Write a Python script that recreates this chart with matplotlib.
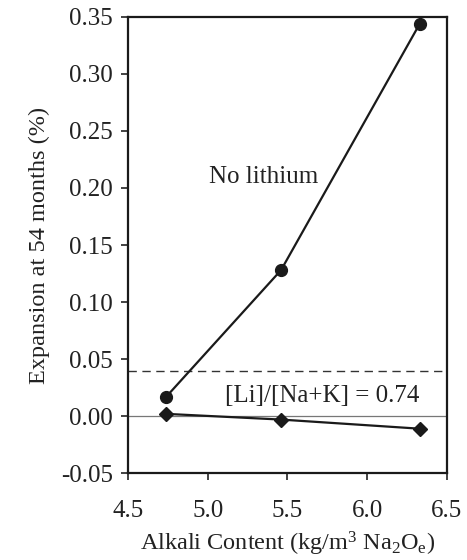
import matplotlib.pyplot as plt

# alkali content (kg/m3 Na2Oe)
alkali = [4.74, 5.46, 6.33]
no_lithium = [0.017, 0.128, 0.344]
with_lithium = [0.002, -0.003, -0.011]
limit = 0.04

xticks = [4.5, 5.0, 5.5, 6.0, 6.5]
yticks = [-0.05, 0.0, 0.05, 0.10, 0.15, 0.20, 0.25, 0.30, 0.35]


def main():
    plt.rcParams['font.family'] = ['Liberation Serif', 'DejaVu Serif']
    plt.rcParams['mathtext.fontset'] = 'custom'
    plt.rcParams['mathtext.rm'] = 'Liberation Serif'
    plt.rcParams['mathtext.it'] = 'Liberation Serif'
    fig = plt.figure(figsize=(4.67, 5.60), dpi=100)
    ax = fig.add_axes([0.274, 0.155, 0.683, 0.815])

    ax.axhline(0.0, color='#777777', lw=0.9, zorder=1)
    ax.axhline(limit, color='#333333', lw=1.0, ls=(0, (6, 4)), zorder=1)

    ax.plot(alkali, no_lithium, color='#1a1a1a', lw=1.6, marker='o',
            markersize=8.5, zorder=3)
    ax.plot(alkali, with_lithium, color='#1a1a1a', lw=1.6, marker='D',
            markersize=7, zorder=3)

    ax.text(5.35, 0.21, 'No lithium', fontsize=18, ha='center', va='center',
            color='#222222')
    ax.text(5.72, 0.018, '[Li]/[Na+K] = 0.74', fontsize=18, ha='center',
            va='center', color='#222222')

    ax.set_xlim(4.5, 6.5)
    ax.set_ylim(-0.05, 0.35)
    ax.set_xticks(xticks)
    ax.set_xticklabels(['%.1f' % v for v in xticks])
    ax.set_yticks(yticks)
    ax.set_yticklabels(['%.2f' % v for v in yticks])
    ax.tick_params(labelsize=18, direction='out', length=5, width=1.2,
                   colors='#222222')
    ax.tick_params(axis='x', pad=14)
    ax.tick_params(axis='y', pad=6)
    for s in ax.spines.values():
        s.set_linewidth(1.6)
        s.set_color('#1a1a1a')

    ax.set_xlabel('Alkali Content (kg/m$^3$ Na$_2$O$_e$)', fontsize=17.5,
                  color='#222222', labelpad=6)
    ax.set_ylabel('Expansion at 54 months (%)', fontsize=17.5,
                  color='#222222', labelpad=8)

    fig.savefig('out.png', dpi=100)


if __name__ == "__main__":
    main()
